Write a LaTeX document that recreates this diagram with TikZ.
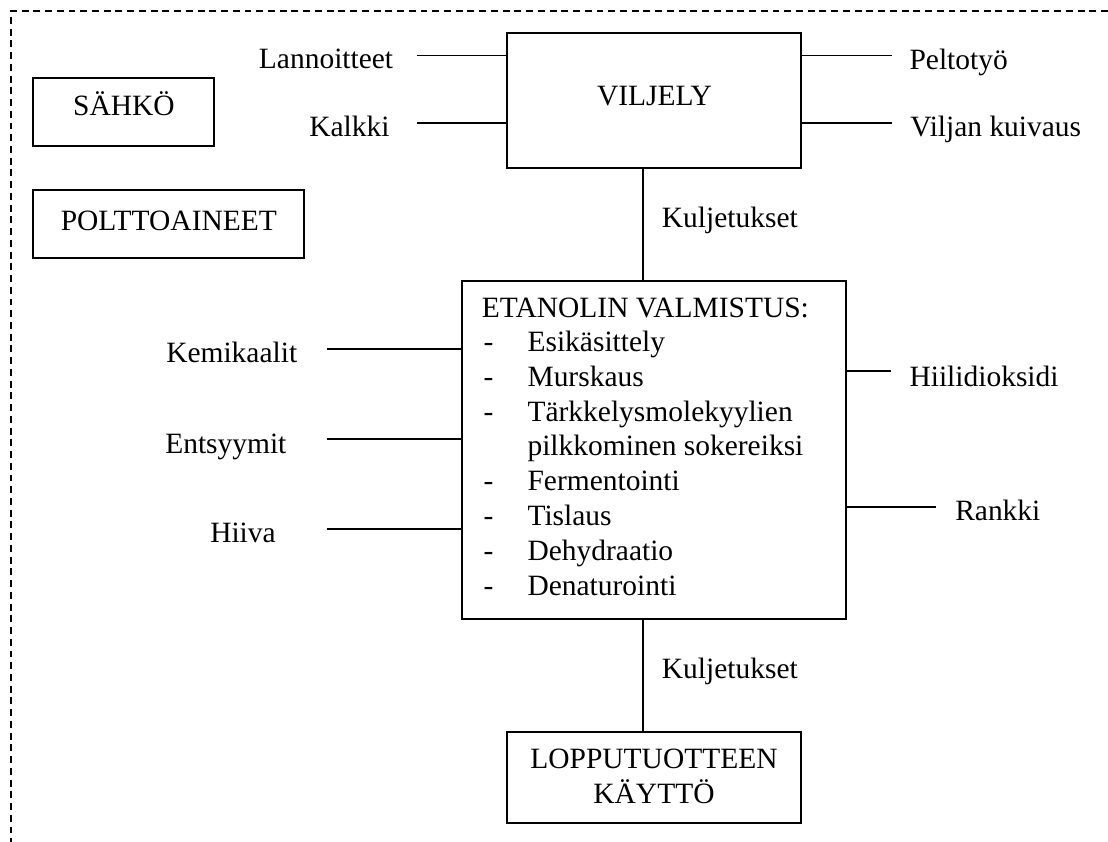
\documentclass[tikz,border=0pt]{standalone}
\usepackage{fontspec}
\setmainfont{Liberation Serif}
\tikzset{
  box/.style={draw, line width=1.3pt, inner sep=0pt},
  conn/.style={line width=1.2pt},
  lbl/.style={inner sep=0pt, anchor=base west, font=\fontsize{22.1pt}{26pt}\selectfont},
  clbl/.style={inner sep=0pt, anchor=base, font=\fontsize{22.1pt}{26pt}\selectfont},
  frame/.style={line width=0.8pt, dash pattern=on 5.2pt off 3.6pt}
}
\begin{document}
\begin{tikzpicture}[x=0.75pt,y=-0.75pt]
\useasboundingbox (0,0) rectangle (1108,842);
% dashed frame (top and left edges)
\coordinate (fTL) at (11,11);
\coordinate (fTR) at (1108,11);
\coordinate (fBL) at (11,842);
\draw[frame] (fTR) -- (fTL) -- (fBL);

% boxes
\node[box, minimum width=181*0.75pt, minimum height=68*0.75pt] (sahko) at (123.8,111.7) {};
\node[clbl] (sahkoT) at (123.9,116) {SÄHKÖ};
\node[box, minimum width=271*0.75pt, minimum height=68.3*0.75pt] (polt) at (168.8,224.2) {};
\node[clbl] (poltT) at (168.8,230) {POLTTOAINEET};
\node[box, minimum width=293.4*0.75pt, minimum height=135*0.75pt] (vil) at (654,100.5) {};
\node[clbl] (vilT) at (654.5,106) {VILJELY};
\node[box, minimum width=383.4*0.75pt, minimum height=338.3*0.75pt] (eta) at (654,450.2) {};
\node[box, minimum width=293.4*0.75pt, minimum height=91*0.75pt] (lop) at (654,777.2) {};
\node[clbl] (lopT1) at (654,768.3) {LOPPUTUOTTEEN};
\node[clbl] (lopT2) at (654,803.3) {KÄYTTÖ};

% contents of the ethanol box
\node[lbl] (e0) at (481.7,317.3) {ETANOLIN VALMISTUS:};
\foreach \y/\t/\n in {351.7/Esikäsittely/1, 386.7/Murskaus/2, 421.7/Tärkkelysmolekyylien/3, 490/Fermentointi/5, 525/Tislaus/6, 560/Dehydraatio/7, 595/Denaturointi/8}{
  \node[lbl] (d\n) at (483.3,\y) {-};
  \node[lbl] (e\n) at (527.3,\y) {\t};
}
\node[lbl] (e4) at (527.3,455) {pilkkominen sokereiksi};

% side labels
\node[lbl] (lan) at (258.7,69) {Lannoitteet};
\node[lbl] (kal) at (309,136.7) {Kalkki};
\node[lbl] (pel) at (909.3,69.3) {Peltotyö};
\node[lbl] (vkv) at (910,136.7) {Viljan kuivaus};
\node[lbl] (kul1) at (661.7,228) {Kuljetukset};
\node[lbl] (kem) at (166,362.7) {Kemikaalit};
\node[lbl] (ent) at (165,453.3) {Entsyymit};
\node[lbl] (hii) at (210,542.7) {Hiiva};
\node[lbl] (hd) at (909.3,386) {Hiilidioksidi};
\node[lbl] (ran) at (955,520.7) {Rankki};
\node[lbl] (kul2) at (661.7,678) {Kuljetukset};

% free ends of connectors
\coordinate (cLan) at (416.7,55.7);
\coordinate (cKal) at (416.7,123.3);
\coordinate (cPel) at (891.7,55.7);
\coordinate (cVkv) at (891.7,123.3);
\coordinate (cKem) at (326.7,349);
\coordinate (cEnt) at (326.7,438.8);
\coordinate (cHii) at (326.7,529);
\coordinate (cHd) at (890.7,371);
\coordinate (cRan) at (936,506.7);
\coordinate (vx) at (643,0);

% connectors
\draw[conn] (cLan) -- (cLan -| vil.west);
\draw[conn] (cKal) -- (cKal -| vil.west);
\draw[conn] (cPel -| vil.east) -- (cPel);
\draw[conn] (cVkv -| vil.east) -- (cVkv);
\draw[conn] (vil.south -| vx) -- (eta.north -| vx);
\draw[conn] (eta.south -| vx) -- (lop.north -| vx);
\draw[conn] (cKem) -- (cKem -| eta.west);
\draw[conn] (cEnt) -- (cEnt -| eta.west);
\draw[conn] (cHii) -- (cHii -| eta.west);
\draw[conn] (cHd -| eta.east) -- (cHd);
\draw[conn] (cRan -| eta.east) -- (cRan);
\end{tikzpicture}
\end{document}
